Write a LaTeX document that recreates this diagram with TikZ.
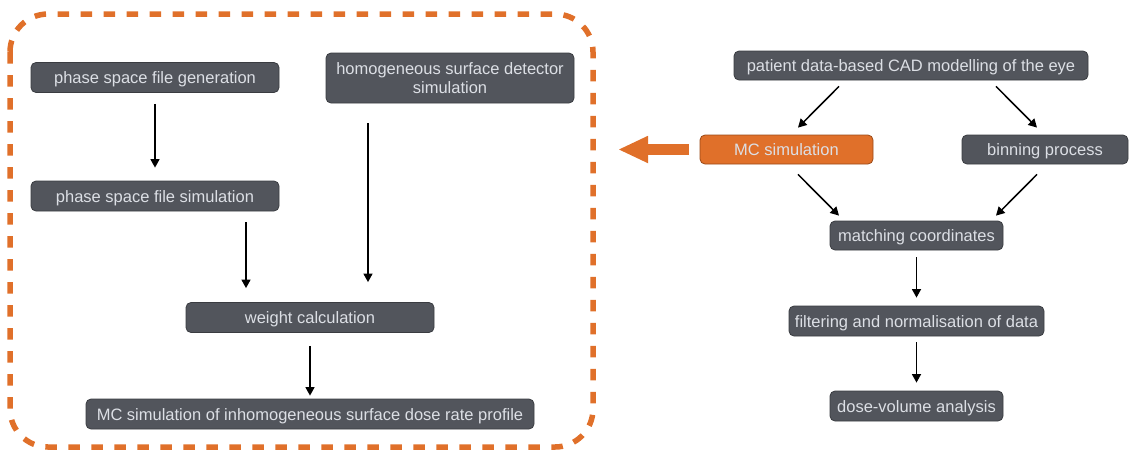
\documentclass[tikz,border=0pt]{standalone}
\usepackage{fontspec}
\setmainfont{Liberation Sans}
\usetikzlibrary{arrows.meta}
\definecolor{boxfill}{HTML}{52555C}
\definecolor{boxline}{HTML}{3A3C41}
\definecolor{boxtext}{HTML}{DCDFE5}
\definecolor{orng}{HTML}{E0702A}
\definecolor{orngline}{HTML}{9A4A18}
\begin{document}
\begin{tikzpicture}[x=1pt,y=-1pt,
  basebox/.style={draw=boxline, line width=0.8pt, fill=boxfill, rounded corners=5pt,
    text=boxtext, font=\fontsize{16.5}{19.5}\selectfont, align=center,
    inner sep=0pt, minimum height=30pt},
  box/.style={basebox, text height=12.6pt, text depth=0pt},
  hibox/.style={box, fill=orng, draw=orngline},
  arr/.style={line width=1.5pt, -{Triangle[length=8.5pt,width=9pt]}},
  frame/.style={draw=orng, line width=5.5pt, dash pattern=on 11.5pt off 11.5pt, rounded corners=38pt},
  bigarrow/.style={draw=orng, line width=11.5pt, -{Triangle[length=30pt,width=25pt]}}
]
\useasboundingbox (0,0) rectangle (1130,451);
\draw[frame] (10,14) rectangle (593,447);

% left group
\node[box, minimum width=248pt] (gen) at (155,77.5) {phase space file generation};
\node[basebox, minimum width=248pt, minimum height=50pt] (hom) at (450,78) {homogeneous surface detector\\simulation};
\node[box, minimum width=248pt] (sim) at (155,196) {phase space file simulation};
\node[box, minimum width=248pt] (wt) at (310,317.5) {weight calculation};
\node[box, minimum width=448pt] (mci) at (310,414) {MC simulation of inhomogeneous surface dose rate profile};

\draw[arr] ([yshift=-11pt]gen.south) -- ([yshift=13pt]sim.north);
\draw[arr] ([xshift=91pt,yshift=-11pt]sim.south) -- ([xshift=-64pt,yshift=14pt]wt.north);
\draw[arr] ([xshift=-82pt,yshift=-20pt]hom.south) -- ([xshift=58pt,yshift=20pt]wt.north);
\draw[arr] ([yshift=-13pt]wt.south) -- ([yshift=3pt]mci.north);

% right group
\node[box, minimum width=354pt, minimum height=29pt] (pat) at (911,65.5) {patient data-based CAD modelling of the eye};
\node[hibox, minimum width=173pt, minimum height=29pt] (mc) at (786.5,149.5) {MC simulation};
\node[box, minimum width=166pt, minimum height=29pt] (bin) at (1045,149.5) {binning process};
\node[box, minimum width=173pt, minimum height=29pt] (mat) at (916.5,235.5) {matching coordinates};
\node[box, minimum width=255pt] (fil) at (916.5,321) {filtering and normalisation of data};
\node[box, minimum width=173pt] (dose) at (916.5,406) {dose-volume analysis};

\draw[arr] ([xshift=-72pt,yshift=-6pt]pat.south) -- ([xshift=11.5pt,yshift=7pt]mc.north);
\draw[arr] ([xshift=85pt,yshift=-6pt]pat.south) -- ([xshift=-8pt,yshift=7pt]bin.north);
\draw[arr] ([xshift=11.5pt,yshift=-10pt]mc.south) -- ([xshift=-77.5pt,yshift=5pt]mat.north);
\draw[arr] ([xshift=-8pt,yshift=-10pt]bin.south) -- ([xshift=79.5pt,yshift=5pt]mat.north);
\draw[arr] ([yshift=-7pt]mat.south) -- ([yshift=8pt]fil.north);
\draw[arr] ([yshift=-6pt]fil.south) -- ([yshift=8pt]dose.north);

\coordinate (tip) at (618,149.5);
\draw[bigarrow] ([xshift=-11pt]mc.west) -- (tip);
\end{tikzpicture}
\end{document}
